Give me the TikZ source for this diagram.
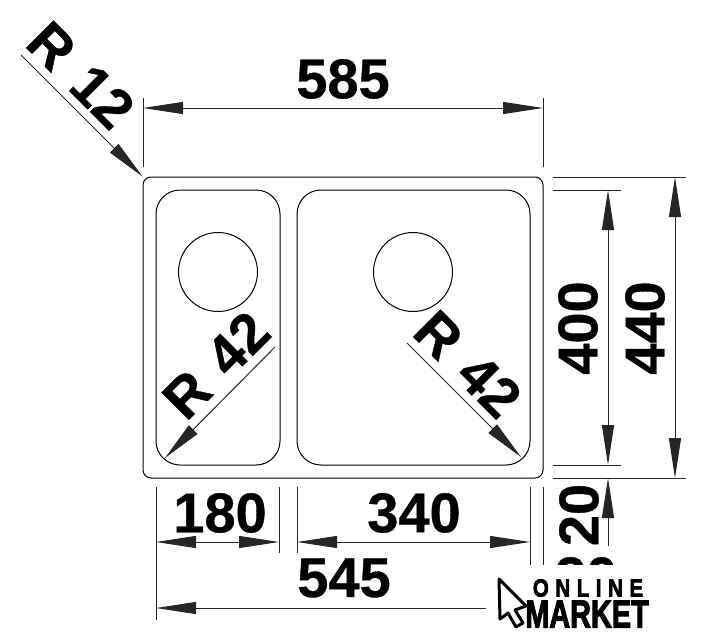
\documentclass[tikz,border=0pt]{standalone}
\usepackage{fontspec}
\setmainfont{Liberation Sans}[BoldFeatures={FakeBold=0.6}]
\newfontfamily\logofont[FakeBold=3]{Liberation Sans Bold}
\usetikzlibrary{arrows.meta, positioning}
\tikzset{
	bowl/.style={draw, line width=1pt, rounded corners=24pt, inner sep=0pt, minimum height=275pt},
	hole/.style={draw, line width=1pt, circle, inner sep=0pt, minimum size=79pt},
	dimline/.style={line width=1pt, draw=black!85},
	tipboth/.style={dimline, {Triangle[length=40pt,width=12pt]}-{Triangle[length=40pt,width=12pt]}},
	tipend/.style={dimline, -{Triangle[length=40pt,width=12pt]}},
	dimtext/.style={inner sep=0pt, font=\bfseries\fontsize{56}{56}\selectfont}
}
\begin{document}
\begin{tikzpicture}[x=1pt, y=-1pt]
	\useasboundingbox (0,0) rectangle (707,640);
	% Fregadero
	\node[draw, line width=1pt, rounded corners=8pt, inner sep=0pt, minimum width=400pt, minimum height=301pt] (outer) at (343,327.5) {};
	\node[bowl, minimum width=124pt] (bowlL) at (218,327.5) {};
	\node[bowl, minimum width=233pt] (bowlR) at (413.5,327.5) {};
	\node[hole] (holeL) at (218,272) {};
	\node[hole] (holeR) at (413,272) {};
	% Puntos
	\coordinate (topA) at (143,98);
	\coordinate (topB) at (143,167);
	\coordinate (topC) at (543,98);
	\coordinate (topD) at (543,167);
	\coordinate (top1) at (143,108);
	\coordinate (top2) at (543,108);
	\coordinate (r12) at (21,55);
	\coordinate (rgtA) at (553,177);
	\coordinate (rgtB) at (686,177);
	\coordinate (rgtC) at (553,190);
	\coordinate (rgtD) at (621,190);
	\coordinate (rgtE) at (553,465);
	\coordinate (rgtF) at (621,465);
	\coordinate (rgtG) at (553,478);
	\coordinate (rgtH) at (686,478);
	\coordinate (d400a) at (608,190);
	\coordinate (d400b) at (608,465);
	\coordinate (d440a) at (675,177);
	\coordinate (d440b) at (675,478);
	\coordinate (d20a) at (608,546);
	\coordinate (d20b) at (608,478);
	\coordinate (botA) at (156,487);
	\coordinate (botB) at (156,620);
	\coordinate (botC) at (279,487);
	\coordinate (botD) at (279,553);
	\coordinate (botE) at (297,487);
	\coordinate (botF) at (297,553);
	\coordinate (botG) at (530,487);
	\coordinate (botH) at (530,570);
	\coordinate (botI) at (543,487);
	\coordinate (botJ) at (543,570);
	\coordinate (d180a) at (156,542);
	\coordinate (d180b) at (279,542);
	\coordinate (d340a) at (297,542);
	\coordinate (d340b) at (530,542);
	\coordinate (d545a) at (156,608);
	\coordinate (d545b) at (500,608);
	\coordinate (r42a) at (275,347);
	\coordinate (r42b) at (165,458);
	\coordinate (r42c) at (407,343);
	\coordinate (r42d) at (521,457);
	% Lineas
	\foreach \a/\b in {topA/topB, topC/topD, rgtA/rgtB, rgtC/rgtD, rgtE/rgtF, rgtG/rgtH,
		botA/botB, botC/botD, botE/botF, botG/botH, botI/botJ}
		\draw[dimline] (\a) -- (\b);
	% Flechas
	\foreach \a/\b in {top1/top2, d400a/d400b, d440a/d440b, d180a/d180b, d340a/d340b}
		\draw[tipboth] (\a) -- (\b);
	\draw[tipend] (r12) -- (outer.north west);
	\draw[tipend] (d20a) -- (d20b);
	\draw[tipend] (r42a) -- (r42b);
	\draw[tipend] (r42c) -- (r42d);
	\draw[tipend] (d545b) -- (d545a);
	% Textos
	\node[dimtext] (t585) at (343,79) {585};
	\node[dimtext] (t180) at (220,513) {180};
	\node[dimtext] (t340) at (414,513) {340};
	\node[dimtext] (t545) at (344,578) {545};
	\node[dimtext, rotate=90] (t400) at (578,328) {400};
	\node[dimtext, rotate=90] (t440) at (645,328) {440};
	\node[dimtext, rotate=90] (t20) at (579,515) {20};
	\node[dimtext, rotate=-45] (tr12) at (81,75) {R\hspace{5pt} 12};
	\node[dimtext, rotate=45] (tr42a) at (216,365) {R\hspace{5pt} 42};
	\node[dimtext, rotate=-45] (tr42b) at (468,364) {R\hspace{5pt} 42};
	\node[dimtext] (t20b) at (586,577) {20};
	% Logo
	\fill[white] (486,565) rectangle (650,640);
	\draw[line width=3pt, line join=round, fill=white] (499,579) -- (526,606) -- (515,610) -- (523,623) -- (516,627) -- (508,613) -- (500,619) -- cycle;
	\node[inner sep=0pt, font=\logofont\fontsize{25}{25}\selectfont, xscale=.82] (online) at (588,588) {O\hspace{8pt}N\hspace{8pt}L\hspace{8pt}I\hspace{8pt}N\hspace{8pt}E};
	\node[inner sep=0pt, font=\logofont\fontsize{39}{39}\selectfont, xscale=.74] (market) at (587,614) {MARKET};
\end{tikzpicture}
\end{document}
